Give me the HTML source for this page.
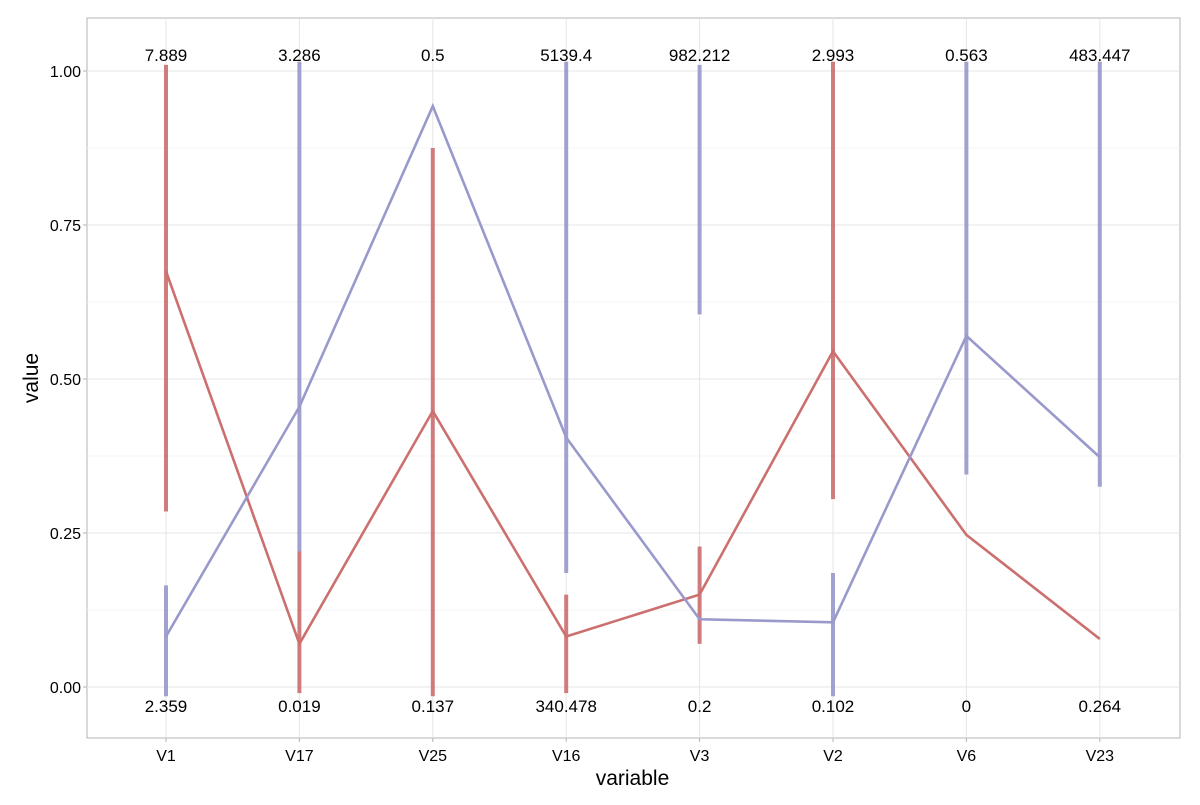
<!DOCTYPE html>
<html><head><meta charset="utf-8"><style>
body{margin:0;background:#fff;font-family:"Liberation Sans",sans-serif}
svg text{font-family:"Liberation Sans",sans-serif}
</style></head><body>
<svg id="chart" width="1200" height="800" xmlns="http://www.w3.org/2000/svg"></svg>
<script>
const categories=["V1","V17","V25","V16","V3","V2","V6","V23"];
const topLabels=["7.889","3.286","0.5","5139.4","982.212","2.993","0.563","483.447"];
const bottomLabels=["2.359","0.019","0.137","340.478","0.2","0.102","0","0.264"];
const redValues=[0.675,0.07,0.448,0.082,0.15,0.545,0.247,0.078];
const blueValues=[0.082,0.455,0.943,0.405,0.11,0.105,0.57,0.373];
const redRanges=[[0,0.285,1.01],[1,-0.01,0.22],[2,-0.015,0.875],[3,-0.01,0.15],[4,0.07,0.228],[5,0.305,1.015]];
const blueRanges=[[0,-0.015,0.165],[1,0.22,1.015],[3,0.185,1.015],[4,0.605,1.01],[5,-0.015,0.185],[6,0.345,1.015],[7,0.325,1.015]];
const yTicks=[0,0.25,0.5,0.75,1];
const ns="http://www.w3.org/2000/svg";
const svg=document.getElementById("chart");
const L=87,R=1180,T=18,B=738;
const x=i=>166+i*133.4;
const y=v=>687-v*616;
function el(tag,attrs,parent){const e=document.createElementNS(ns,tag);for(const k in attrs)e.setAttribute(k,attrs[k]);(parent||svg).appendChild(e);return e;}
const panel=el("rect",{x:L,y:T,width:R-L,height:B-T,fill:"#fff",stroke:"#b3b3b3","stroke-width":1});


for(let i=0;i<yTicks.length-1;i++){const v=(yTicks[i]+yTicks[i+1])/2;const g=el("line",{x1:L,x2:R,y1:y(v),y2:y(v),stroke:"#f5f5f5","stroke-width":1});

}
yTicks.forEach(v=>{const g=el("line",{x1:L,x2:R,y1:y(v),y2:y(v),stroke:"#e5e5e5","stroke-width":1});


const t=el("text",{x:L-6,y:y(v)+6,"text-anchor":"end","font-size":16,fill:"#000"});t.textContent=v.toFixed(2);


const tk=el("line",{x1:L-4,x2:L,y1:y(v),y2:y(v),stroke:"#b3b3b3"});

});
categories.forEach((c,i)=>{const g=el("line",{x1:x(i),x2:x(i),y1:T,y2:B,stroke:"#e5e5e5","stroke-width":1});


const tk=el("line",{x1:x(i),x2:x(i),y1:B,y2:B+4,stroke:"#b3b3b3"});


const t=el("text",{x:x(i),y:B+23,"text-anchor":"middle","font-size":16});t.textContent=c;

});
function bars(ranges,color,name){ranges.forEach(r=>{const b=el("line",{x1:x(r[0]),x2:x(r[0]),y1:y(r[1]),y2:y(r[2]),stroke:color,"stroke-width":4,opacity:0.9});

});}
bars(redRanges,"#cc6f6f","red-range-bar");
bars(blueRanges,"#9999cc","blue-range-bar");
function line(vals,color,name){const p=el("polyline",{points:vals.map((v,i)=>x(i)+","+y(v)).join(" "),fill:"none",stroke:color,"stroke-width":2.6});

}
line(redValues,"#cc6f6f","red-series-line");
line(blueValues,"#9999cc","blue-series-line");
categories.forEach((c,i)=>{const t=el("text",{x:x(i),y:y(1)-10,"text-anchor":"middle","font-size":17});t.textContent=topLabels[i];


const b=el("text",{x:x(i),y:y(0)+25,"text-anchor":"middle","font-size":17});b.textContent=bottomLabels[i];

});
const xt=el("text",{x:(L+R)/2-1,y:785,"text-anchor":"middle","font-size":21});xt.textContent="variable";


const yt=el("text",{x:0,y:0,"text-anchor":"middle","font-size":21,transform:"translate(38,"+((T+B)/2)+") rotate(-90)"});yt.textContent="value";


</script>
</body></html>
